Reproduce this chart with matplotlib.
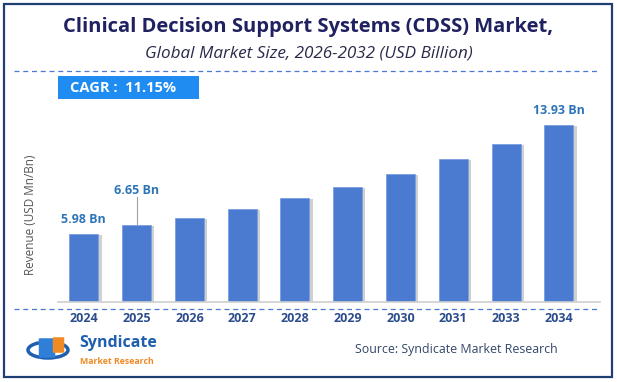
import matplotlib.pyplot as plt
from matplotlib.patches import Rectangle, Ellipse, FancyBboxPatch
from matplotlib.lines import Line2D

years = ["2024", "2025", "2026", "2027", "2028", "2029", "2030", "2031", "2033", "2034"]
revenue = [5.98, 6.65, 7.15, 7.81, 8.61, 9.42, 10.37, 11.49, 12.59, 13.93]
labels = {0: "5.98 Bn", 1: "6.65 Bn", 9: "13.93 Bn"}

plt.rcParams["font.family"] = ["Open Sans", "DejaVu Sans"]

fig = plt.figure(figsize=(6.17, 3.82), dpi=100)
W, H = 617, 382
base = 1.0


def fx(px):
    return px / W


def fy(py):
    return 1 - py / H


# outer border
fig.patches.append(Rectangle((fx(4), fy(377)), fx(608), 373 / H, transform=fig.transFigure,
                             fill=False, edgecolor="#1f3f73", linewidth=1.6))

fig.text(0.5, fy(27), "Clinical Decision Support Systems (CDSS) Market,", ha="center", va="center",
         fontsize=14.5, fontweight="bold", color="#1f2160")
fig.text(0.5, fy(53), "Global Market Size, 2026-2032 (USD Billion)", ha="center", va="center",
         fontsize=12.3, style="italic", color="#2a2a4a")

# dashed separators
fig.lines.append(Line2D([fx(14), fx(600)], [fy(71), fy(71)], transform=fig.transFigure,
                        color="#4a7bd0", linewidth=0.9, linestyle=(0, (4, 3))))
fig.lines.append(Line2D([fx(14), fx(600)], [fy(309), fy(309)], transform=fig.transFigure,
                        color="#4a7bd0", linewidth=0.9, linestyle=(0, (4, 3))))

# CAGR box
fig.patches.append(Rectangle((fx(58), fy(99)), fx(141), 23 / H, transform=fig.transFigure,
                             facecolor="#1e8cf0", edgecolor="none"))
fig.text(fx(70), fy(87.5), "CAGR :  11.15%", ha="left", va="center", fontsize=10.5,
         fontweight="bold", color="white")

ax = fig.add_axes([fx(58), fy(302), fx(542), 192 / H])
x = list(range(len(years)))
# soft shadow on the right of each bar
ax.bar([i + 0.06 for i in x], [v - base - 0.08 for v in revenue], width=0.55, bottom=base,
       color="#bdbdbd", alpha=0.7, zorder=1)
ax.bar(x, [v - base for v in revenue], width=0.55, bottom=base, color="#4a7bd0",
       edgecolor="#7a9ee0", linewidth=0.6, zorder=2)
ax.set_xlim(-0.49, 9.78)
ax.set_ylim(base, 15.05)
ax.set_xticks(x)
ax.set_xticklabels(years, fontsize=9, fontweight="bold", color="#2b4d8c")
ax.tick_params(axis="x", length=0, pad=7)
ax.set_yticks([])
for s in ["top", "right", "left"]:
    ax.spines[s].set_visible(False)
ax.spines["bottom"].set_color("#d0d0d0")
ax.spines["bottom"].set_linewidth(1.2)

for i, txt in labels.items():
    if i == 1:
        ax.plot([i, i], [revenue[i], revenue[i] + 2.0], color="#a0a0a0", linewidth=0.8, zorder=3)
        ax.text(i, revenue[i] + 2.5, txt, ha="center", va="center", fontsize=9,
                fontweight="bold", color="#2e75b6")
    else:
        ax.text(i, revenue[i] + 1.05, txt, ha="center", va="center", fontsize=9,
                fontweight="bold", color="#2e75b6")

fig.text(fx(30), fy(215), "Revenue (USD Mn/Bn)", rotation=90, ha="center", va="center",
         fontsize=8.5, color="#555555")

# logo
fig.patches.append(Ellipse((fx(48), fy(350)), fx(40), 16 / H, transform=fig.transFigure,
                           fill=False, edgecolor="#1f5fb0", linewidth=2.5))
fig.patches.append(FancyBboxPatch((fx(40), fy(357)), fx(14), 18 / H, transform=fig.transFigure,
                                  boxstyle="round,pad=0.002", facecolor="#2f7fd8", edgecolor="none"))
fig.patches.append(FancyBboxPatch((fx(54), fy(352)), fx(9), 14 / H, transform=fig.transFigure,
                                  boxstyle="round,pad=0.002", facecolor="#f08a24", edgecolor="none"))
fig.text(fx(79), fy(343), "Syndicate", ha="left", va="center", fontsize=11.5,
         fontweight="bold", color="#1f5fb0")
fig.text(fx(80), fy(361), "Market Research", ha="left", va="center", fontsize=6.3,
         fontweight="bold", color="#f08a24")

fig.text(fx(355), fy(350), "Source: Syndicate Market Research", ha="left", va="center",
         fontsize=8.9, color="#34466b")

fig.savefig("out.png", dpi=100)
